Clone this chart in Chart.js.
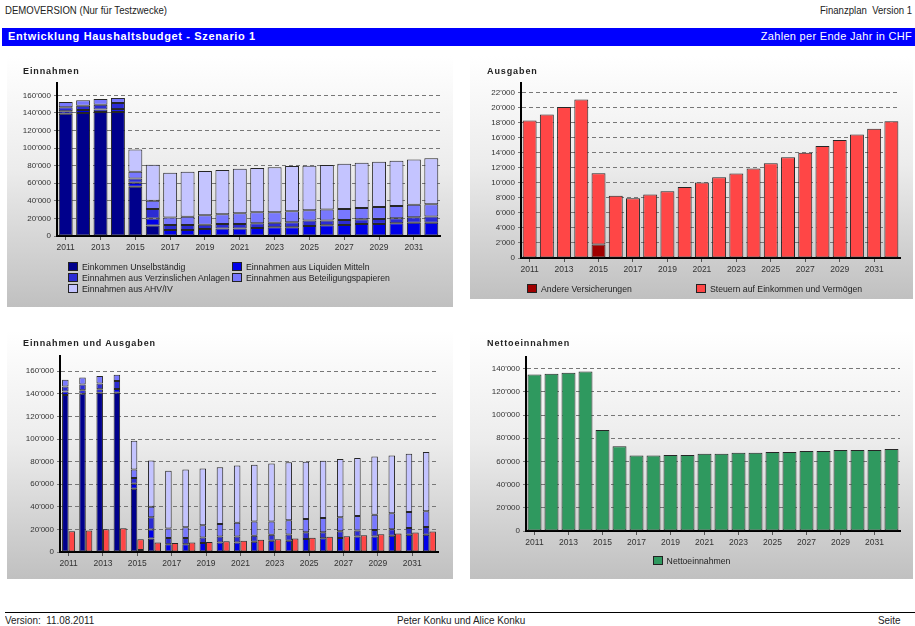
<!DOCTYPE html>
<html>
<head>
<meta charset="utf-8">
<script src="https://cdn.jsdelivr.net/npm/chart.js@4.4.1/dist/chart.umd.min.js"></script>
<style>
  body { margin: 0; width: 915px; height: 626px; position: relative; overflow: hidden; background: #fff;
         font-family: "Liberation Sans", Arial, sans-serif; color: #222; }
  .hdr { position: absolute; top: 4px; font: 11px "Liberation Sans", sans-serif; white-space: nowrap;
         transform: scaleX(0.87); transform-origin: left top; }
  .banner { position: absolute; left: 2px; top: 28px; width: 913px; height: 18px; background: #0000ff; color: #fff; }
  .banner .bl { position: absolute; left: 6px; top: 2px; font: bold 11px "Liberation Sans", sans-serif; letter-spacing: 0.65px; }
  .banner .br { position: absolute; right: 3px; top: 2px; font: 11px "Liberation Sans", sans-serif; letter-spacing: 0.3px; }
  .panel { position: absolute; background: linear-gradient(#ffffff 0%, #ececec 45%, #c0c0c0 100%); }
  .panel canvas { position: absolute; left: 0; top: 0; }
  .ptitle { position: absolute; font: bold 9px "Liberation Sans", sans-serif; letter-spacing: 0.9px; white-space: nowrap; }
  .legend { position: absolute; display: grid; grid-auto-rows: 11px; font: 8.7px "Liberation Sans", sans-serif; white-space: nowrap; }
  .legend i { display: inline-block; width: 8px; height: 7px; border: 1px solid #222; margin-right: 4px; vertical-align: -1px; }
  .footline { position: absolute; left: 5px; top: 612px; width: 910px; height: 1px; background: #000; }
  .foot { position: absolute; top: 614px; font: 11px "Liberation Sans", sans-serif; white-space: nowrap;
          transform: scaleX(0.9); transform-origin: left top; }
</style>
</head>
<body>
<div class="hdr" style="left:5px">DEMOVERSION (Nur für Testzwecke)</div>
<div class="hdr" style="left:820px">Finanzplan&nbsp; Version 1</div>
<div class="banner"><span class="bl">Entwicklung Haushaltsbudget - Szenario 1</span><span class="br">Zahlen per Ende Jahr in CHF</span></div>

<div class="panel" style="left:7px;top:56px;width:446px;height:251px">
  <canvas id="c1" width="446" height="251"></canvas>
  <div class="ptitle" style="left:16px;top:10px">Einnahmen</div>
  <div class="legend" id="l1" style="left:61px;top:206px;grid-template-columns:164px 164px"></div>
</div>
<div class="panel" style="left:470px;top:56px;width:443px;height:243px">
  <canvas id="c2" width="443" height="243"></canvas>
  <div class="ptitle" style="left:17px;top:10px">Ausgaben</div>
  <div class="legend" id="l2" style="left:57px;top:228px;grid-template-columns:169px 200px"></div>
</div>
<div class="panel" style="left:7px;top:331px;width:446px;height:248px">
  <canvas id="c3" width="446" height="248"></canvas>
  <div class="ptitle" style="left:16px;top:7px">Einnahmen und Ausgaben</div>
</div>
<div class="panel" style="left:470px;top:331px;width:443px;height:248px">
  <canvas id="c4" width="443" height="248"></canvas>
  <div class="ptitle" style="left:17px;top:7px">Nettoeinnahmen</div>
  <div class="legend" id="l4" style="left:0;width:443px;top:225px;justify-items:center"></div>
</div>

<div class="footline"></div>
<div class="foot" style="left:5px">Version:&nbsp; 11.08.2011</div>
<div class="foot" style="left:397px">Peter Konku und Alice Konku</div>
<div class="foot" style="left:878px">Seite</div>

<script>
const years = ['2011', '2012', '2013', '2014', '2015', '2016', '2017', '2018', '2019', '2020', '2021',
               '2022', '2023', '2024', '2025', '2026', '2027', '2028', '2029', '2030', '2031', '2032'];

// y-axis tick values
const einTicks = [0, 20000, 40000, 60000, 80000, 100000, 120000, 140000, 160000];
const ausTicks = [0, 2000, 4000, 6000, 8000, 10000, 12000, 14000, 16000, 18000, 20000, 22000];
const nettoTicks = [0, 20000, 40000, 60000, 80000, 100000, 120000, 140000];

// Einnahmen (CHF)
const einkommenUnselbst = [139000, 140000, 141000, 141000, 56000, 12000, 0, 0, 0, 0, 0,
                           0, 0, 0, 0, 0, 0, 0, 0, 0, 0, 0];
const liquideMittel = [3000, 3200, 3000, 3300, 4500, 8000, 6800, 6800, 8000, 8400, 8400,
                       9100, 9900, 9900, 11400, 12200, 12500, 13700, 13700, 14400, 15200, 15200];
const verzinslAnlagen = [4500, 5000, 5200, 7000, 5000, 10800, 5700, 5700, 4900, 5300, 5300,
                         5300, 5300, 5700, 6100, 5300, 5800, 5300, 5700, 5800, 6100, 6900];
const beteiligungen = [6000, 6300, 6600, 5700, 7500, 9200, 8400, 9500, 10700, 11000, 12200,
                       12600, 11800, 12500, 11800, 12500, 12500, 12900, 13600, 14000, 14100, 14000];
const ahvIv = [0, 0, 0, 0, 25500, 41000, 51000, 51000, 50400, 50300, 50600,
               50300, 51300, 51400, 50700, 50800, 51500, 51400, 51500, 51300, 51600, 52400];

// Ausgaben (CHF)
const andereVersicherungen = [0, 0, 0, 0, 1800, 0, 0, 0, 0, 0, 0,
                              0, 0, 0, 0, 0, 0, 0, 0, 0, 0, 0];
const steuern = [18300, 19100, 20100, 21100, 9500, 8300, 7950, 8450, 8900, 9450, 10050,
                 10750, 11250, 11900, 12600, 13400, 14000, 14900, 15700, 16450, 17200, 18200];

// Nettoeinnahmen (CHF)
const nettoeinnahmen = [135000, 135500, 136500, 137500, 87000, 73000, 65000, 65000, 65500, 65500, 66500,
                        66500, 67500, 67500, 68000, 68000, 69000, 69000, 69800, 69800, 69800, 70700];

const einSeries = [
  { label: 'Einkommen Unselbständig', data: einkommenUnselbst, color: '#00008c' },
  { label: 'Einnahmen aus Liquiden Mitteln', data: liquideMittel, color: '#0000e8' },
  { label: 'Einnahmen aus Verzinslichen Anlagen', data: verzinslAnlagen, color: '#2c2cd4' },
  { label: 'Einnahmen aus Beteiligungspapieren', data: beteiligungen, color: '#7878ff' },
  { label: 'Einnahmen aus AHV/IV', data: ahvIv, color: '#c4c4ff' }
];
const ausSeries = [
  { label: 'Andere Versicherungen', data: andereVersicherungen, color: '#a00000' },
  { label: 'Steuern auf Einkommen und Vermögen', data: steuern, color: '#ff4646' }
];
const nettoSeries = [
  { label: 'Nettoeinnahmen', data: nettoeinnahmen, color: '#2f995f' }
];

const fmt = v => String(v).replace(/\B(?=(\d{3})+(?!\d))/g, "'");

function yScale(max, tickValues) {
  return {
    stacked: true,
    min: 0,
    max: max,
    afterBuildTicks: s => { s.ticks = tickValues.map(v => ({ value: v })); },
    afterFit: s => { s.width = 50; },
    ticks: { padding: 3, color: '#333', font: { family: '"Liberation Sans"', size: 8 }, callback: v => fmt(v) },
    grid: { color: '#777', tickColor: '#777', tickLength: 3 },
    border: { color: '#000', width: 2, dash: [4, 3] }
  };
}

function xScale() {
  return {
    stacked: true,
    afterFit: s => { s.height = 20; },
    grid: { drawOnChartArea: false, offset: false, tickLength: 4,
            color: c => (c.index % 2 === 0 ? '#555' : 'rgba(0,0,0,0)') },
    border: { color: '#000', width: 2 },
    ticks: {
      autoSkip: false, maxRotation: 0, padding: 3, color: '#333',
      font: { family: '"Liberation Sans"', size: 8.5 },
      callback: function (v, i) { return i % 2 === 0 ? this.getLabelForValue(v) : ''; }
    }
  };
}

function toDatasets(series, extra) {
  return series.map(s => Object.assign({
    label: s.label,
    data: s.data,
    backgroundColor: s.color,
    borderColor: '#262626',
    borderWidth: 1,
    borderSkipped: false
  }, extra || {}));
}

function makeChart(id, datasets, max, tickValues, padding, bar) {
  datasets.forEach(d => Object.assign(d, bar));
  return new Chart(document.getElementById(id), {
    type: 'bar',
    data: { labels: years, datasets: datasets },
    options: {
      responsive: false,
      animation: false,
      layout: { padding: padding },
      plugins: { legend: { display: false }, title: { display: false }, tooltip: { enabled: false } },
      scales: { x: xScale(), y: yScale(max, tickValues) }
    }
  });
}

function buildLegend(id, series) {
  document.getElementById(id).innerHTML = series
    .map(s => `<span><i style="background:${s.color}"></i>${s.label}</span>`)
    .join('');
}

// Einnahmen
makeChart('c1', toDatasets(einSeries), 174000, einTicks,
  { left: 0, top: 27, right: 13, bottom: 51 },
  { barPercentage: 0.8, categoryPercentage: 1 });
buildLegend('l1', einSeries);

// Ausgaben
makeChart('c2', toDatasets(ausSeries), 23300, ausTicks,
  { left: 1, top: 27, right: 13, bottom: 21 },
  { barPercentage: 0.81, categoryPercentage: 1 });
buildLegend('l2', ausSeries);

// Einnahmen und Ausgaben
makeChart('c3', toDatasets(einSeries, { stack: 'ein' }).concat(toDatasets(ausSeries, { stack: 'aus' })), 173500, einTicks,
  { left: 3, top: 25, right: 15, bottom: 7 },
  { barPercentage: 1, categoryPercentage: 0.76 });

// Nettoeinnahmen
makeChart('c4', toDatasets(nettoSeries), 150000, nettoTicks,
  { left: 6, top: 26, right: 13, bottom: 28 },
  { barPercentage: 0.82, categoryPercentage: 1 });
buildLegend('l4', nettoSeries);
</script>
</body>
</html>
